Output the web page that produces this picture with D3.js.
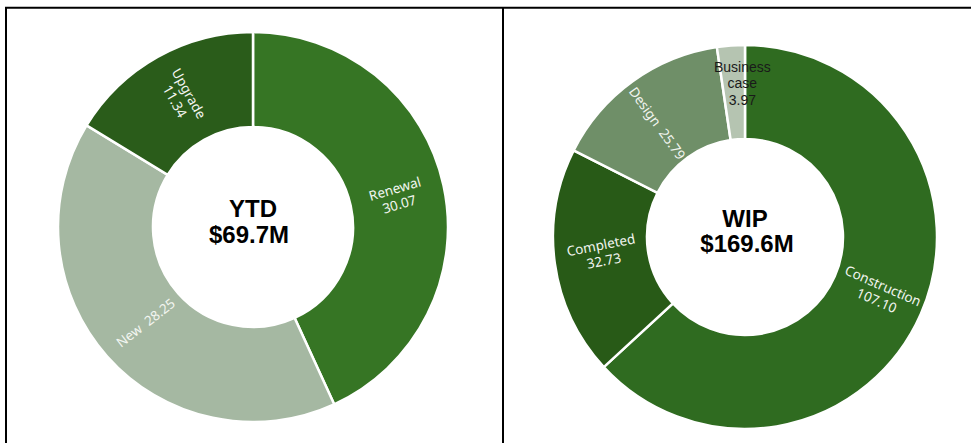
<!DOCTYPE html>
<html>
<head>
<meta charset="utf-8">
<script src="https://cdn.jsdelivr.net/npm/d3@7"></script>
<style>
  html, body { margin: 0; padding: 0; background: #fff; }
  svg { display: block; }
  .slice-label { font-family: "Noto Sans", "Open Sans", sans-serif; font-size: 13.5px; fill: #f2f5f0; white-space: pre; }
  .center { font-family: "Liberation Sans", Arial, sans-serif; font-weight: bold; font-size: 24px; fill: #000; text-anchor: middle; }
  .dark-label { font-family: "Liberation Sans", Arial, sans-serif; font-size: 14px; fill: #1a1a1a; text-anchor: middle; }
</style>
</head>
<body>
<script>
// ---- Data ----
const ytdCategories = ["Renewal", "New", "Upgrade"];
const ytdValues = [30.07, 28.25, 11.34];
const ytdColors = ["#367524", "#a5b8a2", "#2a5c1a"];
const ytdTitle = ["YTD", "$69.7M"];

const wipCategories = ["Construction", "Completed", "Design", "Business case"];
const wipValues = [107.10, 32.73, 25.79, 3.97];
const wipColors = ["#2f6b20", "#285a17", "#6f8f68", "#b5c4b1"];
const wipTitle = ["WIP", "$169.6M"];

const W = 971, H = 443;
const svg = d3.select("body").append("svg").attr("width", W).attr("height", H);

// Panel frame lines
svg.append("line").attr("x1", 5).attr("x2", W).attr("y1", 7.7).attr("y2", 7.7).attr("stroke", "#000").attr("stroke-width", 2);
svg.append("line").attr("x1", 6).attr("x2", 6).attr("y1", 7).attr("y2", H).attr("stroke", "#000").attr("stroke-width", 2);
svg.append("line").attr("x1", 503).attr("x2", 503).attr("y1", 7).attr("y2", H).attr("stroke", "#000").attr("stroke-width", 2);

function donut(opts) {
  const { cx, cy, R, r, cats, vals, colors, title, labelSpec } = opts;
  const g = svg.append("g").attr("transform", `translate(${cx},${cy})`);
  const pie = d3.pie().sort(null).value(d => d.v);
  const data = pie(cats.map((c, i) => ({ c, v: vals[i], color: colors[i], i })));
  const arc = d3.arc().innerRadius(r).outerRadius(R);
  g.selectAll("path.slice").data(data).join("path")
    .attr("class", "slice")
    .attr("d", arc)
    .attr("fill", d => d.data.color)
    .attr("stroke", "#fff")
    .attr("stroke-width", 2.5)
    .attr("stroke-linejoin", "miter");

  data.forEach((d, i) => {
    const spec = labelSpec[i];
    const [x, y] = arc.centroid(d);
    const mid = (d.startAngle + d.endAngle) / 2 * 180 / Math.PI;
    let rot = 0;
    if (spec.mode === "tangentTop") rot = mid - 90;
    else if (spec.mode === "tangentBottom") rot = mid - 270;
    else if (spec.mode === "radial") rot = mid - 270;
    rot += spec.drot || 0;
    const lg = g.append("g").attr("transform", `translate(${x + (spec.dx || 0)},${y + (spec.dy || 0)}) rotate(${rot})`);
    const t = lg.append("text").attr("class", spec.dark ? "dark-label" : "slice-label")
      .attr("text-anchor", "middle");
    const lines = spec.lines(d.data);
    const lh = spec.lh || 16;
    const y0 = -(lines.length - 1) * lh / 2;
    lines.forEach((ln, k) => {
      t.append("tspan").attr("x", 0).attr("y", y0 + k * lh).attr("dy", "0.35em").text(ln);
    });
  });

  g.append("text").attr("class", "center").attr("x", opts.tx || 0).attr("y", opts.ty1).text(title[0]);
  g.append("text").attr("class", "center").attr("x", opts.tx2 || 0).attr("y", opts.ty2).text(title[1]);
}

const fmt = d3.format(".2f");

donut({
  cx: 253, cy: 227, R: 195, r: 100,
  cats: ytdCategories, vals: ytdValues, colors: ytdColors, title: ytdTitle,
  ty1: -10, ty2: 16, tx: 0, tx2: -4,
  labelSpec: [
    { mode: "tangentTop", drot: -4, dy: 1, lines: d => [d.c, fmt(d.v)] },
    { mode: "tangentBottom", drot: 4, dx: 3, dy: -2, lines: d => [d.c + "  " + fmt(d.v)] },
    { mode: "radial", dx: 1, dy: -1, lines: d => [d.c, fmt(d.v)] }
  ]
});

donut({
  cx: 745, cy: 237, R: 192, r: 98,
  cats: wipCategories, vals: wipValues, colors: wipColors, title: wipTitle,
  ty1: -10, ty2: 15, tx: 0, tx2: 2,
  labelSpec: [
    { mode: "tangentTop", dx: 2, dy: -2, lines: d => [d.c, fmt(d.v)] },
    { mode: "tangentBottom", drot: -3, dx: 1, dy: -4, lines: d => [d.c, fmt(d.v)] },
    { mode: "radial", dx: -3, dy: 4, lines: d => [d.c + "  " + fmt(d.v)] },
    { mode: "none", dark: true, lh: 16.5, dx: 8, dy: -9, lines: d => ["Business", "case", fmt(d.v)] }
  ]
});
</script>
</body>
</html>
